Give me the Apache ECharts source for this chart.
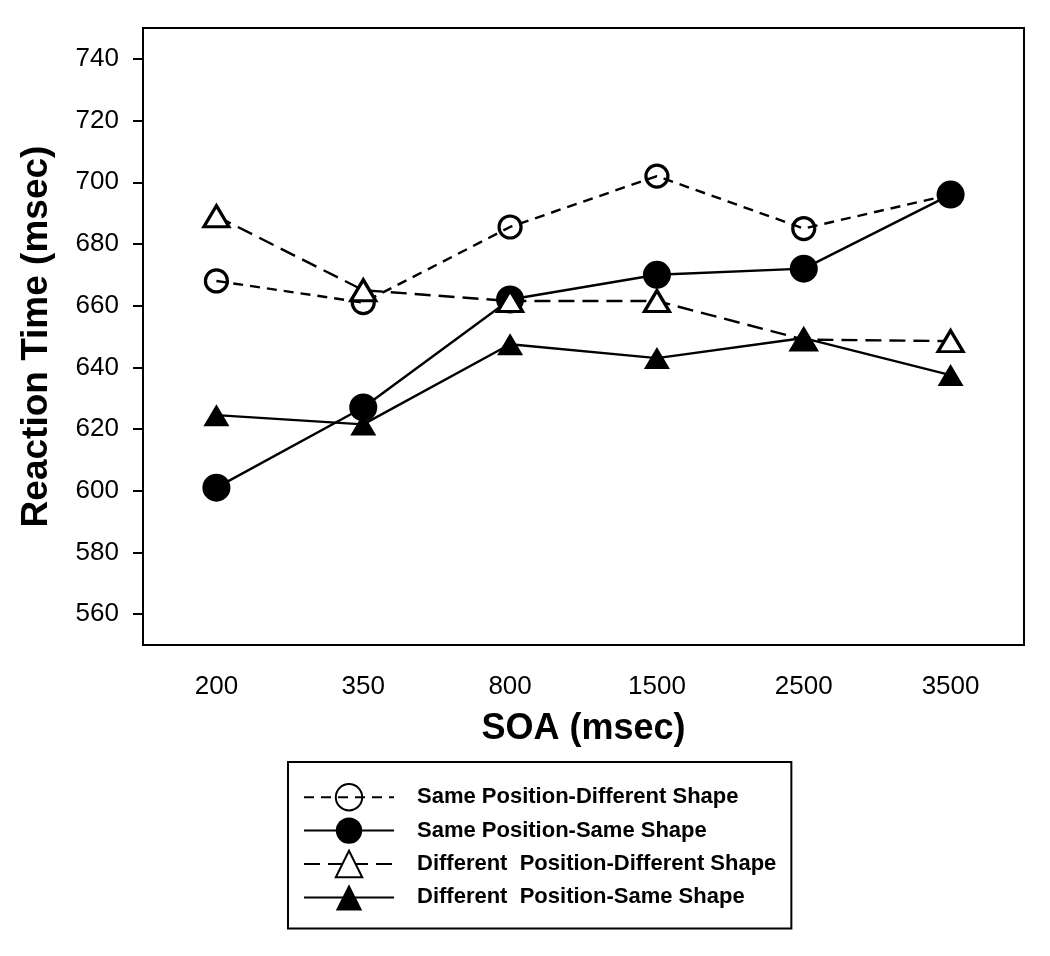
<!DOCTYPE html>
<html>
<head>
<meta charset="utf-8">
<script src="https://cdn.jsdelivr.net/npm/echarts@6/dist/echarts.min.js"></script>
<style>
html,body{margin:0;padding:0;background:#fff;}
#chart{width:1050px;height:956px;}
</style>
</head>
<body>
<div id="chart"></div>
<script>
var soa = ['200', '350', '800', '1500', '2500', '3500'];
var yTicks = [560, 580, 600, 620, 640, 660, 680, 700, 720, 740];
var samePosDiffShape = [668, 661, 685.5, 702, 685, 696];
var samePosSameShape = [601, 627, 662, 670, 672, 696];
var diffPosDiffShape = [689, 665, 661.5, 661.5, 649, 648.5];
var diffPosSameShape = [624.5, 621.5, 647.5, 643, 649.5, 637.5];
var names = ['Same Position-Different Shape', 'Same Position-Same Shape',
             'Different  Position-Different Shape', 'Different  Position-Same Shape'];

var FONT = '"Liberation Sans", Arial, sans-serif';
var chart = echarts.init(document.getElementById('chart'));
chart.setOption({
  animation: false,
  backgroundColor: '#fff',
  grid: { left: 143, right: 26, top: 28, bottom: 311, show: true, borderColor: '#000', borderWidth: 2, backgroundColor: 'transparent' },
  xAxis: {
    type: 'category',
    data: soa,
    boundaryGap: true,
    name: 'SOA (msec)',
    nameLocation: 'middle',
    nameGap: 66,
    nameTextStyle: { fontFamily: FONT, fontSize: 36, fontWeight: 'bold', color: '#000' },
    axisLine: { lineStyle: { color: '#000', width: 2 } },
    axisTick: { alignWithLabel: true, length: 9, lineStyle: { color: '#000', width: 2 } },
    axisLabel: { fontFamily: FONT, fontSize: 26, color: '#000', margin: 29 },
    splitLine: { show: false }
  },
  yAxis: {
    type: 'value',
    min: 550,
    max: 750,
    name: 'Reaction Time (msec)',
    nameLocation: 'middle',
    nameGap: 88,
    nameTextStyle: { fontFamily: FONT, fontSize: 37, fontWeight: 'bold', color: '#000' },
    axisLine: { show: true, lineStyle: { color: '#000', width: 2 } },
    axisTick: { show: true, length: 10, customValues: yTicks, lineStyle: { color: '#000', width: 2 } },
    axisLabel: { fontFamily: FONT, fontSize: 26, color: '#000', margin: 24, customValues: yTicks },
    splitLine: { show: false }
  },
  legend: {
    orient: 'vertical',
    left: 288,
    top: 762,
    padding: [21, 15, 18, 15],
    borderColor: '#000',
    borderWidth: 2,
    itemWidth: 90,
    itemHeight: 33,
    itemGap: 6,
    data: names,
    formatter: '{a|{name}}',
    textStyle: {
      rich: { a: { fontFamily: FONT, fontSize: 22, fontWeight: 'bold', color: '#000', padding: [0, 0, 0, 18] } }
    }
  },
  series: [
    {
      name: names[0], type: 'line', data: samePosDiffShape,
      symbol: 'circle', symbolSize: 22,
      lineStyle: { color: '#000', width: 2.4, type: [10, 7] },
      itemStyle: { color: 'rgba(0,0,0,0)', borderColor: '#000', borderWidth: 3.2 }
    },
    {
      name: names[1], type: 'line', data: samePosSameShape,
      symbol: 'circle', symbolSize: 28,
      lineStyle: { color: '#000', width: 2.4, type: 'solid' },
      itemStyle: { color: '#000', borderColor: '#000', borderWidth: 0 }
    },
    {
      name: names[2], type: 'line', data: diffPosDiffShape,
      symbol: 'triangle', symbolSize: [25, 21],
      lineStyle: { color: '#000', width: 2.4, type: [16, 8] },
      itemStyle: { color: '#fff', borderColor: '#000', borderWidth: 3.2 }
    },
    {
      name: names[3], type: 'line', data: diffPosSameShape,
      symbol: 'triangle', symbolSize: [26, 22],
      lineStyle: { color: '#000', width: 2.4, type: 'solid' },
      itemStyle: { color: '#000', borderColor: '#000', borderWidth: 0 }
    }
  ]
});
</script>
</body>
</html>
